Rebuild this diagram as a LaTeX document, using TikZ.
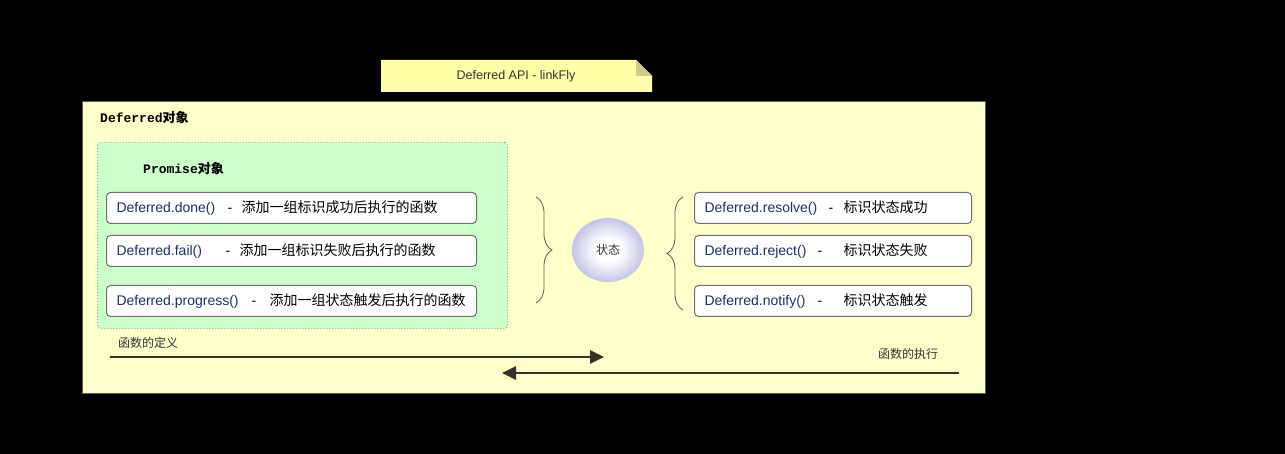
\documentclass[tikz,border=0pt]{standalone}
\usepackage{fontspec}
\setmainfont{Liberation Sans}
\newfontfamily\cjk{Noto Sans CJK SC}
\newfontfamily\monob{Liberation Mono}
\usetikzlibrary{arrows.meta,decorations.pathreplacing,shapes.geometric}
\definecolor{outerfill}{HTML}{FFFFCC}
\definecolor{outerline}{HTML}{5E5E44}
\definecolor{notefill}{HTML}{FFFFA8}
\definecolor{notefold}{HTML}{CCCC88}
\definecolor{greenfill}{HTML}{CCFFCC}
\definecolor{greenline}{HTML}{8FA88F}
\definecolor{boxline}{HTML}{707070}
\definecolor{fnblue}{HTML}{1C3263}
\definecolor{darkline}{HTML}{33332A}
\definecolor{lav}{HTML}{A8A8DC}
\pgfdeclareradialshading{stateball}{\pgfpoint{0bp}{0bp}}{color(0bp)=(white); color(9bp)=(white); color(22bp)=(lav!55); color(32bp)=(lav); color(50bp)=(lav)}
\newcommand{\fnrow}[4]{\makebox[#2pt][l]{\color{fnblue}#1}\makebox[#3pt][l]{-}{\cjk\fontsize{14}{16}\selectfont #4}}
\begin{document}
\begin{tikzpicture}[x=1pt,y=-1pt,
  fnbox/.style={draw=boxline, line width=1pt, fill=white, rounded corners=4pt, anchor=north west,
    minimum height=31pt, inner xsep=10pt, inner ysep=0pt, align=left,
    font=\fontsize{14}{16}\selectfont},
  lbl/.style={font=\cjk\fontsize{12}{14}\selectfont, text=black!80, inner sep=0pt},
  flow/.style={line width=2.6pt, draw=darkline, -{Triangle[length=14pt,width=13pt]}},
  bracestyle/.style={draw=darkline!80, line width=0.8pt, decorate, decoration={brace,amplitude=16pt}}]
\useasboundingbox[fill=black] (0,0) rectangle (1285,454);

% note
\fill[notefill] (381,60) -- (636,60) -- (652,76) -- (652,92) -- (381,92) -- cycle;
\fill[notefold] (636,60) -- (652,76) -- (636,76) -- cycle;
\node[font=\fontsize{12.5}{15}\selectfont, text=black!80] (note) at (516,76) {Deferred API - linkFly};

% outer box
\node[draw=outerline, line width=1pt, fill=outerfill, anchor=north west, minimum width=903pt, minimum height=292pt, inner sep=0pt] (outer) at (82,101) {};
\node[anchor=west, inner sep=0pt, font=\fontsize{13}{15}\selectfont] (deftitle) at (100,118) {{\monob\bfseries Deferred}{\cjk\bfseries 对象}};

% promise box
\node[draw=greenline, dotted, line width=1pt, fill=greenfill, rounded corners=3pt, anchor=north west, minimum width=410pt, minimum height=186pt, inner sep=0pt] (promise) at (97,142) {};
\node[anchor=west, inner sep=0pt, font=\fontsize{13}{15}\selectfont] (protitle) at (143,169) {{\monob\bfseries Promise}{\cjk\bfseries 对象}};

% left functions
\node[fnbox, text width=350pt] (done) at (106,192) {\fnrow{Deferred.done()}{111}{14}{添加一组标识成功后执行的函数}};
\node[fnbox, text width=350pt] (fail) at (106,235) {\fnrow{Deferred.fail()}{109}{14}{添加一组标识失败后执行的函数}};
\node[fnbox, text width=350pt] (progress) at (106,285) {\fnrow{Deferred.progress()}{135}{18}{添加一组状态触发后执行的函数}};

% right functions
\node[fnbox, text width=257pt] (resolve) at (694,192) {\fnrow{Deferred.resolve()}{124}{15}{标识状态成功}};
\node[fnbox, text width=257pt] (reject) at (694,235) {\fnrow{Deferred.reject()}{113}{26}{标识状态失败}};
\node[fnbox, text width=257pt] (notify) at (694,285) {\fnrow{Deferred.notify()}{113}{26}{标识状态触发}};

% braces
\coordinate (lbt) at (536,197);
\coordinate (lbb) at (536,303);
\coordinate (rbt) at (683,197);
\coordinate (rbb) at (683,310);
\draw[bracestyle] (lbt) -- (lbb);
\draw[bracestyle] (rbb) -- (rbt);

% state ellipse
\node[ellipse, minimum width=72pt, minimum height=64pt, inner sep=0pt, shading=stateball, font=\cjk\fontsize{12}{14}\selectfont, text=black!80] (state) at (608,250) {状态};

% flows
\node[lbl, anchor=west] (deflbl) at (118,343) {函数的定义};
\node[lbl, anchor=west] (execlbl) at (878,354) {函数的执行};
\coordinate (d1) at (110,357);
\coordinate (d2) at (604,357);
\coordinate (e1) at (959,373);
\coordinate (e2) at (502,373);
\draw[flow] (d1) -- (d2);
\draw[flow] (e1) -- (e2);
\end{tikzpicture}
\end{document}
